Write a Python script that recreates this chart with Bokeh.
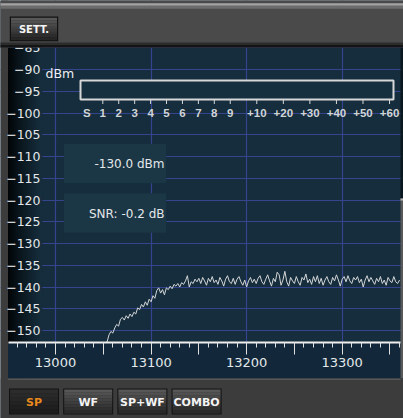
from bokeh.plotting import figure
from bokeh.models import Range1d, FixedTicker, SingleIntervalTicker
from bokeh.core.properties import value
from bokeh.embed import file_html
from bokeh.resources import INLINE

# ---- spectrum trace: frequency (Hz) and level (dBm) ----
freq_hz = list(range(13052, 13362, 2))
level_dbm = [
    -152.8, -152.6, -151.0, -150.2, -150.6, -149.4, -148.6, -149.0, -147.4, -147.0,
    -147.6, -146.6, -147.2, -146.2, -146.8, -145.8, -146.2, -144.8, -145.2, -144.0,
    -144.6, -143.4, -144.2, -142.8, -143.4, -142.0, -142.6, -140.8, -140.2, -141.4,
    -140.6, -141.8, -140.2, -140.6, -139.8, -140.4, -139.4, -139.8, -139.2, -140.0,
    -139.0, -139.4, -138.6, -137.4, -140.0, -138.8, -139.2, -138.2, -138.8, -138.0,
    -139.2, -137.8, -138.6, -139.6, -138.0, -138.8, -137.6, -139.0, -138.4, -139.4,
    -137.8, -138.6, -139.8, -138.2, -137.4, -138.8, -139.2, -138.0, -139.4, -138.2,
    -137.6, -138.8, -139.6, -138.4, -140.0, -138.6, -137.8, -139.0, -138.2, -139.2,
    -138.0, -137.4, -138.8, -139.4, -138.2, -137.2, -138.6, -139.8, -138.0, -138.8,
    -136.6, -137.2, -139.6, -138.4, -136.4, -138.8, -139.8, -137.8, -138.6, -139.2,
    -137.6, -138.8, -139.6, -137.8, -138.4, -137.0, -139.0, -138.2, -139.4, -137.6,
    -138.8, -137.4, -139.2, -138.0, -139.6, -138.4, -137.6, -138.8, -139.4, -137.8,
    -138.6, -137.2, -138.4, -139.8, -138.2, -137.6, -138.8, -137.4, -138.6, -139.2,
    -137.8, -138.4, -137.6, -139.0, -138.2, -140.0, -138.4, -137.4, -138.8, -137.8,
    -138.6, -139.4, -138.0, -138.8, -137.6, -139.2, -138.4, -139.6, -137.8, -138.6,
    -139.0, -137.6, -138.8, -139.2, -138.4,
]

# axis ticks
level_ticks_dbm = [-85, -90, -95, -100, -105, -110, -115, -120, -125, -130, -135, -140, -145, -150]
freq_label_step_hz = 100
freq_tick_step_hz = 50

# readouts
signal_dbm = -130.0
snr_db = -0.2

# S-meter scale
smeter_labels = ["S", "1", "2", "3", "4", "5", "6", "7", "8", "9",
                 "+10", "+20", "+30", "+40", "+50", "+60"]
smeter_dbm = [-127, -121, -115, -109, -103, -97, -91, -85, -79, -73,
              -63, -53, -43, -33, -23, -13]

mode_buttons = ["SP", "WF", "SP+WF", "COMBO"]
active_mode = "SP"

# ---- canvas geometry ----
W, H = 403, 418
HZ_PER_PX = 300 / 286.7
F_LEFT = 13000 - 55 * HZ_PER_PX
DB_PER_PX = 60 / 261
DB_TOP = -90 + 69 * DB_PER_PX
M_PX_PER_DB = 2.655


def fx(px):
    return F_LEFT + px * HZ_PER_PX


def fy(py):
    return DB_TOP - py * DB_PER_PX


def mx(px):
    # S-meter is linear in dBm, S1 (-121 dBm) at 102.3 px
    return -121 + (px - 102.3) / M_PX_PER_DB


PANEL = "#152d3c"
GRID = "#34448e"
FRAME = "#3c3c3c"
TXT = "#e4e8ea"
FONT = "DejaVu Sans"

p = figure(width=W, height=H,
           x_range=Range1d(fx(0), fx(W)), y_range=Range1d(fy(H), fy(0)),
           output_backend="svg", toolbar_location=None,
           min_border=0, min_border_left=0, min_border_right=0,
           min_border_top=0, min_border_bottom=0)
p.title.visible = False
p.outline_line_color = None
p.background_fill_color = PANEL
p.border_fill_color = FRAME
p.extra_x_ranges = {"meter": Range1d(mx(0), mx(W))}


def hexrgb(c):
    c = c.lstrip("#")
    return tuple(int(c[i:i + 2], 16) for i in (0, 2, 4))


def mix(c0, c1, t):
    a, b = hexrgb(c0), hexrgb(c1)
    return "#%02x%02x%02x" % tuple(round(a[i] + (b[i] - a[i]) * t) for i in range(3))


def rect_px(x0, x1, y0, y1, color, level="glyph", line=None, lw=1):
    p.quad(left=fx(x0), right=fx(x1), top=fy(y0), bottom=fy(y1),
           fill_color=color, line_color=line, line_width=lw, level=level)


def vgrad(x0, x1, y0, y1, c0, c1, n, level="glyph"):
    h = (y1 - y0) / n
    for i in range(n):
        rect_px(x0, x1, y0 + i * h, y0 + (i + 1) * h + 0.3, mix(c0, c1, i / (n - 1)), level)


def text_px(x, y, s, size, color, align="left", style="normal", level="glyph", font=FONT):
    p.text(x=[fx(x)], y=[fy(y)], text=[s], text_font=value(font),
           text_font_size=f"{size}px", text_color=color, text_align=align,
           text_baseline="middle", text_font_style=style, level=level)


# ---- grid ----
p.xgrid.ticker = SingleIntervalTicker(interval=freq_label_step_hz)
p.ygrid.ticker = FixedTicker(ticks=level_ticks_dbm)
for g in (p.xgrid[0], p.ygrid[0]):
    g.grid_line_color = GRID
    g.grid_line_width = 1.2

# ---- readout boxes ----
rect_px(63.3, 165.7, 143.3, 182.7, "#1b3645")
rect_px(63.3, 165.7, 192.7, 232.3, "#1b3645")
text_px(164, 163.3, f"{signal_dbm:.1f} dBm", 12, TXT, align="right")
text_px(164, 213.3, f"SNR: {snr_db:.1f} dB", 12, TXT, align="right")

# ---- S-meter ----
meter_floor = mx(80)
meter_top = mx(393)
p.quad(left=meter_floor, right=meter_top, top=fy(80), bottom=fy(99),
       x_range_name="meter", fill_color="#16303f", line_color="#d8d8d8", line_width=2)
if signal_dbm > meter_floor:
    p.quad(left=meter_floor, right=min(signal_dbm, meter_top), top=fy(82), bottom=fy(97),
           x_range_name="meter", fill_color="#d8d8d8", line_color=None)
p.segment(x0=smeter_dbm[1:], y0=fy(99), x1=smeter_dbm[1:], y1=fy(103.5),
          x_range_name="meter", line_color="#d8d8d8", line_width=1)
p.text(x=smeter_dbm, y=[fy(112)] * len(smeter_dbm), text=smeter_labels,
       x_range_name="meter", text_font=value("Liberation Sans"), text_font_size="11.5px",
       text_font_style="bold", text_color="#d0d4d6", text_align="center",
       text_baseline="middle")

text_px(45, 73, "dBm", 12.5, "#f0f0f4")

# ---- spectrum ----
p.line(freq_hz, level_dbm, line_color="#d4d6d8", line_width=1)

# ---- panel edges ----
rect_px(0, 7.5, 0, H, FRAME)
edge0, n = "#020507", 17
for i in range(n):
    t = (i / (n - 1)) ** 0.85
    rect_px(7.5 + 2 * i, 9.8 + 2 * i, 47, 378, mix(edge0, PANEL, t))
rect_px(7.5, 400, 342, 378, "#12283a")
rect_px(400, W, 47, 198, "#0c1820")
rect_px(400, W, 198, 378, "#595959")
rect_px(400, W, 198, 200, "#b4b4b4")

# ---- bottom bar with mode buttons ----
rect_px(0, W, 378, H, FRAME)
rect_px(7.5, 400, 378, 379.5, "#565656")
for i, name in enumerate(mode_buttons):
    x0 = 9.5 + i * 54.2
    x1 = x0 + 48
    rect_px(x0 - 1, x1 + 1, 388, 414, "#121212")
    if name == active_mode:
        vgrad(x0, x1, 389, 413, "#2c2c2c", "#1c1c1c", 6)
        color = "#e8891c"
    else:
        vgrad(x0, x1, 389, 413, "#565656", "#2a2a2a", 8)
        color = "#f4f4f4"
    text_px((x0 + x1) / 2, 401.5, name, 11, color, align="center", style="bold")

# ---- axes ----
xa = p.xaxis[0]
xa.fixed_location = fy(342)
xa.bounds = (fx(8), fx(400))
xa.ticker = SingleIntervalTicker(interval=freq_tick_step_hz, num_minor_ticks=5)
xa.major_label_overrides = {t: "" for t in range(12950, 13400, freq_label_step_hz)}
xa.axis_line_color = "#eeeeee"
xa.axis_line_width = 2
xa.major_tick_line_color = "#e0e0e0"
xa.minor_tick_line_color = "#e0e0e0"
xa.major_tick_in = 0
xa.major_tick_out = 12
xa.minor_tick_in = 0
xa.minor_tick_out = 5
xa.major_label_standoff = 3
xa.major_label_text_font = FONT
xa.major_label_text_font_size = "13px"
xa.major_label_text_color = TXT

ya = p.yaxis[0]
ya.fixed_location = fx(42)
ya.ticker = FixedTicker(ticks=level_ticks_dbm)
ya.axis_line_color = None
ya.major_tick_line_color = None
ya.minor_tick_line_color = None
ya.major_tick_in = 0
ya.major_tick_out = 0
ya.minor_tick_in = 0
ya.minor_tick_out = 0
ya.major_label_standoff = 2
ya.major_label_text_font = FONT
ya.major_label_text_font_size = "12.5px"
ya.major_label_text_color = TXT

# ---- top bar (drawn over the level scale) ----
rect_px(0, W, 0, 47, "#4a4a4a", level="overlay")
rect_px(0, W, 2.7, 5.3, "#a4a4a4", level="overlay")
rect_px(0, W, 5.3, 8.3, "#6c6c6c", level="overlay")
rect_px(0, W, 42, 44.5, "#2c2c2c", level="overlay")
rect_px(0, W, 44.5, 47, "#141414", level="overlay")
rect_px(9.3, 57.7, 16, 40.7, "#121212", level="overlay")
vgrad(10.5, 56.5, 17.2, 39.5, "#575757", "#262626", 8, level="overlay")
text_px(33.5, 28.8, "SETT.", 10, "#f4f4f4", align="center", style="bold", level="overlay")

open("out.html", "w").write(file_html(p, INLINE))
